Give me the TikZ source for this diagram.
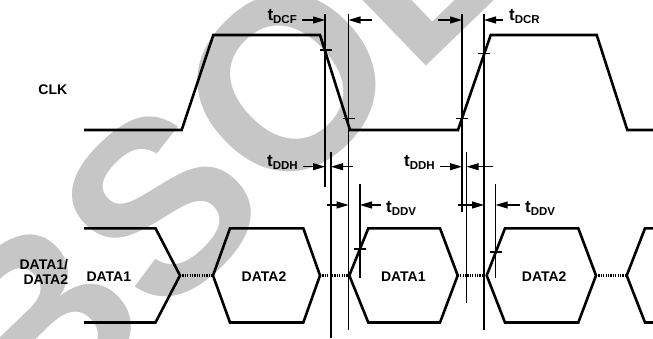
\documentclass[tikz,border=0pt]{standalone}
\usepackage{fontspec}
\setmainfont{Liberation Sans}
\usetikzlibrary{arrows.meta}
\definecolor{wmgray}{RGB}{198,198,198}
\tikzset{
wave/.style={line width=2.6pt,line join=miter},
tline/.style={line width=1.1pt},
dim/.style={line width=1.1pt,-{Triangle[length=12pt,width=7pt]}},
dots/.style={line width=2.4pt,dash pattern=on 1.2pt off 1.2pt},
lbl/.style={font=\fontsize{14}{15}\selectfont\bfseries,inner sep=0pt},
}
\newcommand{\tlab}[1]{{\fontsize{17}{17}\selectfont t}\raisebox{-3pt}{\fontsize{11.5}{11.5}\selectfont #1}}
\begin{document}
\begin{tikzpicture}[x=1pt,y=-1pt]
\useasboundingbox(0,0)rectangle(653,339);
\clip(0,0)rectangle(653,339);
\node[text=wmgray,rotate=44,inner sep=0pt,font=\fontsize{245}{245}\selectfont\bfseries](wm)at(322,50){OBSOLETE};
% clock
\draw[wave](84,130)--(181.7,130)--(213.3,35)--(320,35)--(350,130)--(458,130)--(490.7,35)--(596.7,35)--(627.3,130)--(660,130);
% data
\draw[wave](84,228.3)--(155.5,228.3)--(180,275.5)--(155.5,322.5)--(84,322.5);
\draw[wave](213,275.5)--(230,228.3)--(303.3,228.3)--(320,275.5)--(303.3,322.5)--(230,322.5)--cycle;
\draw[wave](349.3,275.5)--(368.3,228.3)--(440,228.3)--(457.7,275.5)--(440,322.5)--(368.3,322.5)--cycle;
\draw[wave](486.7,275.5)--(505,228.3)--(578.3,228.3)--(596,275.5)--(578.3,322.5)--(505,322.5)--cycle;
\draw[wave](660,228.3)--(645,228.3)--(626.7,275.5)--(645,322.5)--(660,322.5);
\draw[dots](180,275.5)--(213,275.5)(320,275.5)--(349.3,275.5)(457.7,275.5)--(486.7,275.5)(596,275.5)--(626.7,275.5);
% timing lines
\draw[tline](325,14)--++(0,172.7)(348.5,14)--(348.5,330)(462,14)--(462,211.7)(484,14)--(484,330);
\draw[tline](331,152)--(331,338)(466.7,152)--(466.7,303)(360,184)--(360,278)(495.7,184)--(495.7,278);
\draw[tline](319.5,50)--++(12,0)(342.5,118.3)--++(12,0)(456,118.3)--++(12,0)(478,53.3)--++(12,0);
\draw[tline](354,249)--++(12,0)(489.7,252)--++(12,0);
% labels
\node[lbl](clk)at(52.8,90){CLK};
\node[lbl,align=right,anchor=east](dlab)at(68.3,271.5){DATA1/\\DATA2};
\node[lbl](d1a)at(108.8,277){DATA1};
\node[lbl](d2a)at(264,277){DATA2};
\node[lbl](d1b)at(403.3,277){DATA1};
\node[lbl](d2b)at(544.2,277){DATA2};
\node[lbl,anchor=base east](tdcf)at(297,20.5){\tlab{DCF}};
\node[lbl,anchor=base west](tdcr)at(509,20.5){\tlab{DCR}};
\node[lbl,anchor=base east](tddha)at(298,167){\tlab{DDH}};
\node[lbl,anchor=base east](tddhb)at(435,167){\tlab{DDH}};
\node[lbl,anchor=base west](tddva)at(386,212){\tlab{DDV}};
\node[lbl,anchor=base west](tddvb)at(525,212){\tlab{DDV}};
% arrows
\draw[dim](301.7,20)--(325,20);
\draw[dim](371.7,20)--(348.5,20);
\draw[dim](438,20)--(462,20);
\draw[dim](503,20)--(484,20);
\draw[dim](303,166.7)--(325,166.7);
\draw[dim](353,166.7)--(331,166.7);
\draw[dim](440,166.7)--(462,166.7);
\draw[dim](493.3,166.7)--(466.7,166.7);
\draw[dim](327,205)--(348.5,205);
\draw[dim](381,205)--(360,205);
\draw[dim](458,205)--(484,205);
\draw[dim](520,205)--(495.7,205);
\end{tikzpicture}
\end{document}
